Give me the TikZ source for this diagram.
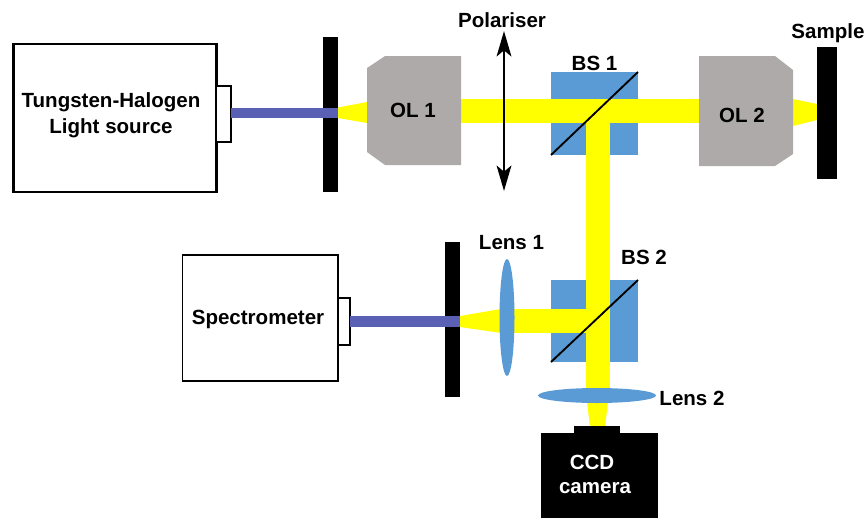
\documentclass[tikz,border=0pt]{standalone}
\usepackage{fontspec}
\setmainfont{Liberation Sans}
\usetikzlibrary{arrows.meta}
\definecolor{beam}{HTML}{FFFF00}
\definecolor{bsblue}{HTML}{5B9BD5}
\definecolor{olgrey}{HTML}{AEAAAA}
\definecolor{fibre}{HTML}{5A60B4}
\tikzset{
  lab/.style={font=\fontsize{15.4}{18}\selectfont\bfseries, text=black, inner sep=0pt, align=center},
  whitelab/.style={lab, text=white},
  beamfill/.style={fill=beam, draw=none},
  fibrefill/.style={fill=fibre, draw=none},
  cube/.style={fill=bsblue, draw=none},
  objective/.style={fill=olgrey, draw=none},
  barfill/.style={fill=black, draw=none},
  lensfill/.style={fill=bsblue, draw=none},
  split/.style={draw=black, line width=1.4pt},
  thick box/.style={draw=black, fill=white, line width=1.6pt, outer sep=0pt, inner sep=0pt},
  thin box/.style={draw=black, fill=white, line width=1.1pt, outer sep=0pt, inner sep=0pt},
  pol/.style={draw=black, line width=2.1pt, {Stealth[length=19pt,width=11pt,inset=4.5pt]}-{Stealth[length=19pt,width=11pt,inset=4.5pt]}},
}
\begin{document}
\begin{tikzpicture}[x=0.75pt,y=-0.75pt]
\useasboundingbox (0,0) rectangle (868,518);
% beam splitter cubes
\fill[cube] (551,72) rectangle (638,155);
\fill[cube] (551,280) rectangle (638,362);
% beams
\fill[beamfill] (461,99) rectangle (700,123);
\fill[beamfill] (586,123) rectangle (610,389);
\fill[beamfill] (500,309) -- (586,309) -- (586,333) -- (500,333) -- cycle;
\fill[beamfill] (338,107.5) -- (367,102) -- (367,123) -- (338,118) -- cycle;
\fill[beamfill] (793,99) -- (817,104) -- (817,120) -- (793,126) -- cycle;
\fill[beamfill] (460,316) -- (501,309) -- (501,333) -- (460,327) -- cycle;
\fill[beamfill] (587,402) -- (608,402) -- (605,427) -- (590,427) -- cycle;
% splitter diagonals
\coordinate (bs1a) at (551,155); \coordinate (bs1b) at (638,72);
\coordinate (bs2a) at (551,362); \coordinate (bs2b) at (638,280);
\draw[split] (bs1a) -- (bs1b);
\draw[split] (bs2a) -- (bs2b);
% barriers
\fill[barfill] (323,37) rectangle (338,192);
\fill[barfill] (445,242) rectangle (460,397);
\fill[barfill] (817,47) rectangle (837,179);
% objectives
\fill[objective] (385,56) -- (461,56) -- (461,165) -- (385,165) -- (367,152) -- (367,68) -- cycle;
\fill[objective] (699,56) -- (775,56) -- (793,70) -- (793,154) -- (775,166) -- (699,166) -- cycle;
% lenses
\fill[lensfill] (507,317.5) ellipse [x radius=7.5, y radius=58.5];
\fill[lensfill] (597,395.5) ellipse [x radius=59, y radius=7.5];
% polariser
\coordinate (polt) at (504,31); \coordinate (polb) at (504,191);
\draw[pol] (polt) -- (polb);
% light source
\node[thick box, minimum width=152.25pt, minimum height=111pt, anchor=north west] (src) at (13.5,44) {};
\node[thin box, minimum width=11pt, minimum height=42pt, anchor=west] (srcport) at (src.east |- 0,114) {};
% spectrometer
\node[thin box, minimum width=116.5pt, minimum height=94.5pt, anchor=north west] (spec) at (182.5,255) {};
\node[thin box, minimum width=9pt, minimum height=35.25pt, anchor=west] (specport) at (spec.east |- 0,321.5) {};
% fibres
\fill[fibrefill] (srcport.east |- 0,108) rectangle (338,118);
\fill[fibrefill] (specport.east |- 0,316) rectangle (460,327);
% camera
\fill[barfill] (541,433) rectangle (658,518);
\fill[barfill] (574,426) rectangle (620,433);
% labels
\node[lab] (tung) at (111,102.5) {Tungsten-Halogen};
\node[lab] (light) at (111,128.5) {Light source};
\node[lab] (speclab) at (258,319) {Spectrometer};
\node[lab] (ol1) at (413,110.5) {OL 1};
\node[lab] (ol2) at (742,115.5) {OL 2};
\node[lab] (bs1) at (594.5,63.5) {BS 1};
\node[lab] (bs2) at (644,257.5) {BS 2};
\node[lab] (lens1) at (511.5,242.5) {Lens 1};
\node[lab] (lens2) at (692,398.5) {Lens 2};
\node[lab] (polar) at (502,20.5) {Polariser};
\node[lab] (sample) at (828,33.5) {Sample};
\node[whitelab] (ccd) at (592,462.5) {CCD};
\node[whitelab] (camera) at (595,488.5) {camera};
\end{tikzpicture}
\end{document}
